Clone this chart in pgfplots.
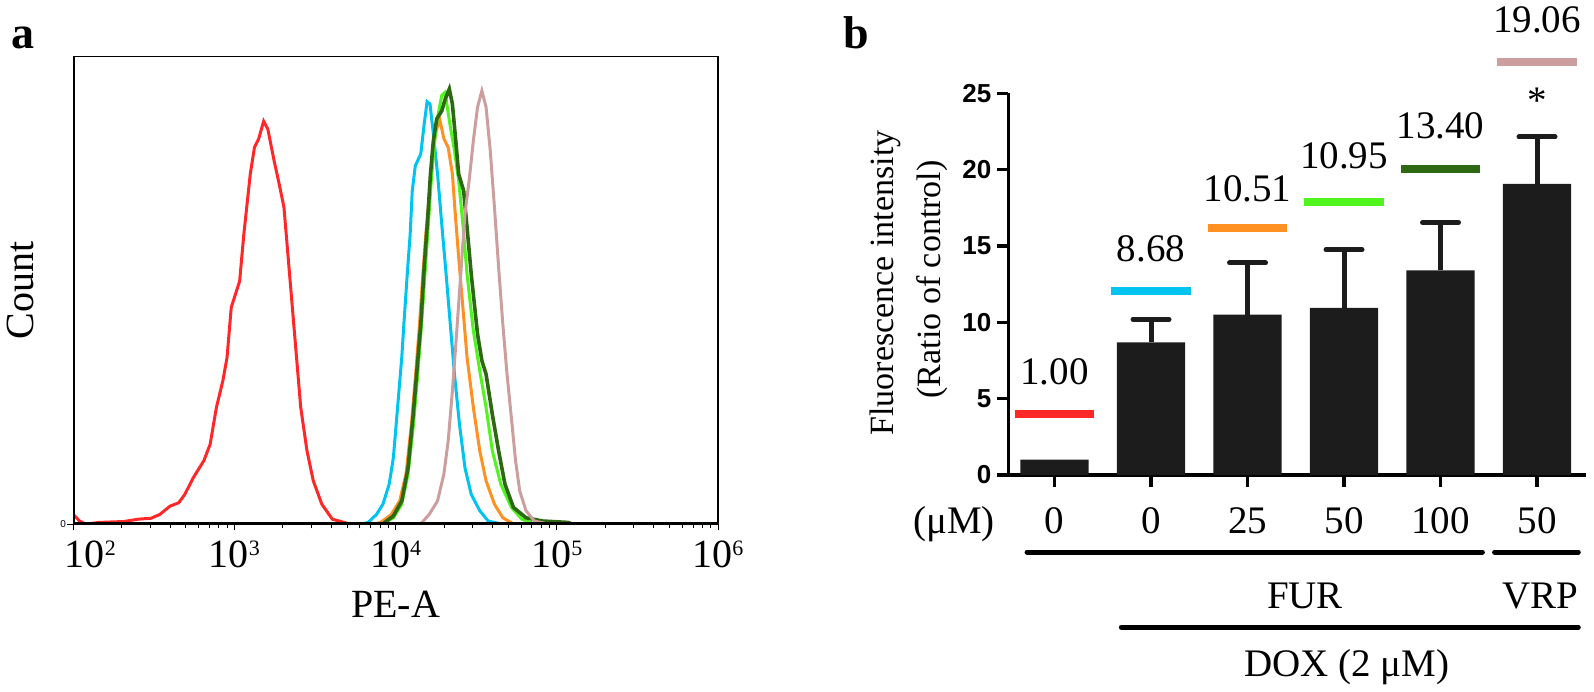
\documentclass[border=0pt]{standalone}
\usepackage{pgfplots}
\pgfplotsset{compat=1.18}
\usepackage{fontspec}
\setmainfont{Liberation Serif}
\newfontfamily\arial{Liberation Sans}

\definecolor{cRed}{RGB}{255,40,40}
\definecolor{cCyan}{RGB}{0,195,240}
\definecolor{cOrange}{RGB}{255,145,35}
\definecolor{cLGreen}{RGB}{80,245,30}
\definecolor{cDGreen}{RGB}{45,105,18}
\definecolor{cRose}{RGB}{204,158,158}
\definecolor{barc}{RGB}{28,28,28}

\newcommand\fa{\fontsize{20pt}{24pt}\selectfont}
\newcommand\fb{\fontsize{19.5pt}{23pt}\selectfont}
\newcommand\fy{\fontsize{17pt}{20pt}\selectfont}
\newcommand\tsup[1]{\raisebox{0.28em}{\fontsize{11pt}{11pt}\selectfont #1}}

\begin{document}
\begin{tikzpicture}
\path[use as bounding box] (0,0) rectangle (797pt,345.5pt);
\node[font=\fontsize{23pt}{26pt}\selectfont\bfseries, anchor=base] at (11.5pt,321pt) {a};
\node[font=\fontsize{23pt}{26pt}\selectfont\bfseries, anchor=base] at (428pt,321pt) {b};

% ---------------- panel a ----------------
\begin{axis}[
  at={(36.65pt,83.35pt)}, anchor=south west,
  scale only axis, width=322.35pt, height=233.8pt,
  xmin=2, xmax=6, ymin=0, ymax=100,
  xtick={2,3,4,5,6},
  xticklabels={{\hspace*{17pt}10\tsup{2}},10\tsup{3},10\tsup{4},10\tsup{5},10\tsup{6}},
  minor xtick={2.301,2.477,2.602,2.699,2.778,2.845,2.903,2.954,
               3.301,3.477,3.602,3.699,3.778,3.845,3.903,3.954,
               4.301,4.477,4.602,4.699,4.778,4.845,4.903,4.954,
               5.301,5.477,5.602,5.699,5.778,5.845,5.903,5.954},
  ytick={0}, yticklabels={0},
  xtick pos=lower, ytick pos=left,
  tick align=outside,
  major tick length=3pt, minor tick length=2pt,
  tick style={black, line width=0.5pt},
  xticklabel style={font=\fa, anchor=north, inner sep=0pt, yshift=-4.85pt},
  yticklabel style={font=\arial\fontsize{5pt}{5pt}\selectfont, inner sep=0.5pt},
  axis line style={line width=0.8pt},
  xlabel={PE-A}, ylabel={Count},
  xlabel style={font=\fa, at={(axis description cs:0.5,0)}, anchor=center, yshift=-39.85pt},
  ylabel style={font=\fa, at={(axis description cs:0,0.5)}, anchor=center, yshift=26.5pt},
]
\addplot[cRed, line width=1.5pt] coordinates {
(2.000,2.1) (2.039,0.7) (2.078,0) (2.157,0.4) (2.314,0.6) (2.405,1.1) (2.483,1.3)
(2.536,2.1) (2.601,3.9) (2.654,4.6) (2.692,6.4) (2.745,10.0) (2.810,13.6) (2.849,17.1)
(2.888,25.0) (2.928,30.7) (2.954,35.7) (2.980,46.4) (3.006,49.2) (3.032,52.0) (3.058,62.0)
(3.098,74.9) (3.124,80.6) (3.150,82.4) (3.181,86.2) (3.207,84.5) (3.246,77.7) (3.273,73.5)
(3.307,67.8) (3.333,57.1) (3.359,46.4) (3.385,35.7) (3.411,25.0) (3.450,15.7) (3.489,9.3)
(3.542,4.3) (3.607,1.1) (3.712,0.1) (3.800,0) (6.000,0)};
\addplot[cCyan, line width=1.5pt] coordinates {
(3.780,0) (3.829,0.4) (3.881,2.1) (3.921,4.3) (3.960,8.6) (3.986,14.3) (4.012,25.0)
(4.038,35.7) (4.051,42.8) (4.072,53.5) (4.090,62.0) (4.103,71.3) (4.122,76.7) (4.156,79.2)
(4.177,85.6) (4.195,90.4) (4.213,89.9) (4.234,83.5) (4.260,74.9) (4.286,64.2) (4.313,53.5)
(4.339,42.8) (4.365,32.1) (4.396,21.4) (4.430,12.1) (4.469,6.4) (4.522,2.9) (4.574,0.7)
(4.652,0.1) (4.700,0)};
\addplot[cOrange, line width=1.5pt] coordinates {
(3.860,0) (3.907,0.4) (3.973,2.1) (4.025,5.0) (4.064,10.7) (4.098,21.4) (4.124,32.1)
(4.148,42.8) (4.169,53.5) (4.187,62.0) (4.208,69.9) (4.229,77.7) (4.247,83.5) (4.273,86.7)
(4.299,82.5) (4.326,80.6) (4.352,74.9) (4.370,66.3) (4.391,57.1) (4.417,46.4) (4.443,35.7)
(4.482,25.0) (4.522,15.7) (4.561,9.3) (4.613,4.3) (4.665,1.4) (4.731,0.1) (4.780,0)};
\addplot[cLGreen, line width=1.5pt] coordinates {
(3.880,0) (3.921,0.1) (3.986,1.4) (4.038,4.3) (4.077,10.7) (4.111,21.4) (4.137,32.1)
(4.161,42.8) (4.182,53.5) (4.203,64.2) (4.221,73.5) (4.242,82.0) (4.260,87.0) (4.286,91.7)
(4.307,92.4) (4.333,86.3) (4.365,79.9) (4.391,73.5) (4.417,64.2) (4.443,53.5) (4.482,41.4)
(4.522,32.8) (4.561,25.0) (4.600,15.7) (4.652,8.6) (4.718,3.6) (4.783,1.1) (4.861,0.1) (4.900,0)};
\addplot[cDGreen, line width=1.8pt] coordinates {
(3.880,0) (3.921,0.1) (3.986,1.8) (4.038,5.0) (4.077,12.1) (4.109,23.5) (4.135,34.2)
(4.156,42.8) (4.177,54.9) (4.198,64.9) (4.216,74.9) (4.234,82.0) (4.255,86.7) (4.286,88.4)
(4.307,90.9) (4.333,93.1) (4.352,89.9) (4.373,82.0) (4.391,74.9) (4.422,71.3) (4.443,63.5)
(4.469,53.5) (4.508,40.7) (4.535,35.0) (4.561,32.1) (4.600,23.5) (4.639,15.7) (4.678,8.6)
(4.731,3.6) (4.809,1.4) (4.913,0.7) (5.070,0.4) (5.100,0)};
\addplot[cRose, line width=1.5pt] coordinates {
(4.120,0) (4.156,0.1) (4.208,2.1) (4.260,5.0) (4.299,10.7) (4.326,17.8) (4.352,28.5)
(4.378,40.7) (4.404,53.5) (4.430,66.3) (4.456,73.5) (4.482,82.0) (4.508,89.2) (4.535,92.7)
(4.561,89.2) (4.587,79.9) (4.613,67.8) (4.639,54.9) (4.665,42.8) (4.691,32.1) (4.718,22.8)
(4.744,13.6) (4.770,7.1) (4.809,2.9) (4.861,0.7) (4.940,0.1) (6.000,0)};
\draw[line width=2pt, line cap=rect] (rel axis cs:0,1) -- (rel axis cs:0,0) -- (rel axis cs:1,0);
\end{axis}

% ---------------- panel b ----------------
\begin{axis}[
  at={(504.15pt,108pt)}, anchor=south west,
  scale only axis, width=288.85pt, height=190.85pt,
  xmin=-0.479, xmax=5.508, ymin=0, ymax=25,
  axis lines*=left,
  axis line style={line width=1.6pt, black},
  xtick={0,1,2,3,4,5},
  xticklabels={0,0,25,50,100,50},
  ytick={0,5,10,15,20,25},
  yticklabels={0,5,10,15,20,25},
  tick align=outside,
  major tick length=5.75pt,
  tick style={line width=1.6pt, black},
  xticklabel style={font=\fb, anchor=north, inner sep=0pt, yshift=-10.25pt},
  yticklabel style={font=\arial\bfseries\fontsize{13pt}{13pt}\selectfont, anchor=east, inner sep=0pt, xshift=-2.55pt},
  clip=false,
]
\addplot[ybar, bar width=0.707, bar shift=0pt, fill=barc, draw=none] coordinates {
(0,1.00) (1,8.68) (2,10.51) (3,10.95) (4,13.40) (5,19.06)};
\addplot[draw=none, mark=none,
  error bars/.cd, y dir=plus, y explicit,
  error bar style={draw=barc, line width=2.5pt},
  error mark options={rotate=90, draw=barc, line width=2.5pt, mark size=9pt, line cap=round}]
 coordinates {(1,8.68) +- (0,1.52) (2,10.51) +- (0,3.38) (3,10.95) +- (0,3.81)
              (4,13.40) +- (0,3.14) (5,19.06) +- (0,3.08)};
% coloured reference lines
\addplot[cRed, line width=4pt] coordinates {(-0.412,3.97) (0.412,3.97)};
\addplot[cCyan, line width=4pt] coordinates {(0.588,12.04) (1.412,12.04)};
\addplot[cOrange, line width=4pt] coordinates {(1.588,16.15) (2.412,16.15)};
\addplot[cLGreen, line width=4pt] coordinates {(2.588,17.90) (3.412,17.90)};
\addplot[cDGreen, line width=4pt] coordinates {(3.588,20.05) (4.412,20.05)};
\addplot[cRose, line width=4pt] coordinates {(4.588,27.06) (5.412,27.06)};
% value labels
\node[font=\fb] at (axis cs:0,6.73) {1.00};
\node[font=\fb] at (axis cs:1,14.8) {8.68};
\node[font=\fb] at (axis cs:2,18.75) {10.51};
\node[font=\fb] at (axis cs:3,20.9) {10.95};
\node[font=\fb] at (axis cs:4,22.9) {13.40};
\node[font=\fb] at (axis cs:5,29.8) {19.06};
\node[font=\fb] at (axis cs:5,24.5) {*};
% axis title
\node[font=\fy, rotate=90, inner sep=0pt] at (axis cs:-1.756,12.58) {Fluorescence intensity};
\node[font=\fy, rotate=90, inner sep=0pt] at (axis cs:-1.269,12.81) {(Ratio of control)};
% bottom annotations
\node[font=\fb, anchor=base] at (axis cs:-1.041,-3.80) {(μM)};
\draw[line width=2.5pt, line cap=round] (axis cs:-0.285,-5.05) -- (axis cs:4.434,-5.05);
\draw[line width=2.5pt, line cap=round] (axis cs:4.560,-5.05) -- (axis cs:5.428,-5.05);
\node[font=\fb, anchor=base] at (axis cs:2.596,-8.74) {FUR};
\node[font=\fb, anchor=base] at (axis cs:5.031,-8.74) {VRP};
\draw[line width=2.5pt, line cap=round] (axis cs:0.692,-9.96) -- (axis cs:5.428,-9.96);
\node[font=\fb, anchor=base] at (axis cs:3.031,-13.2) {DOX (2 μM)};
\end{axis}
\end{tikzpicture}
\end{document}
